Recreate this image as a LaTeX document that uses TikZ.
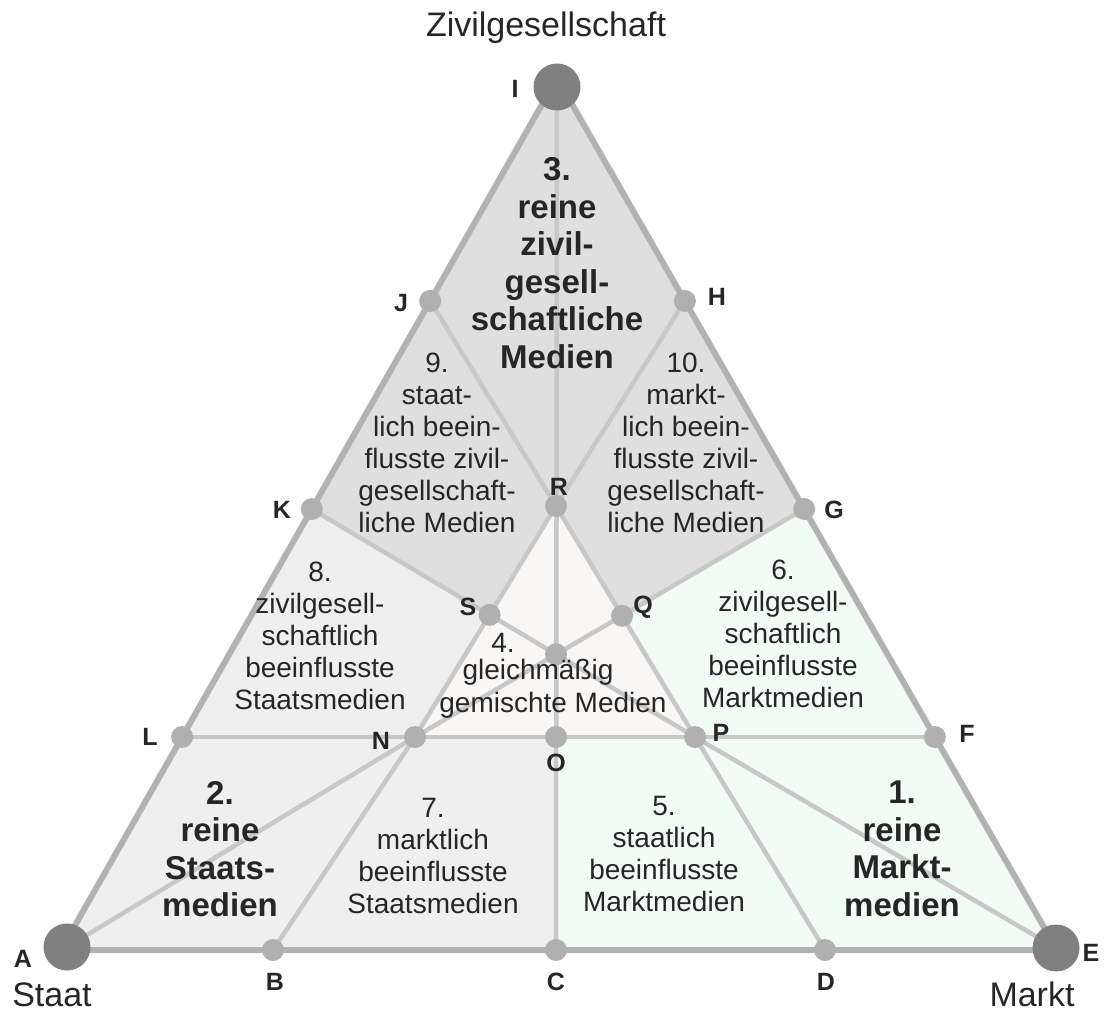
\documentclass[tikz,border=0pt]{standalone}
\usepackage{fontspec}
\setmainfont{Liberation Sans}[Ligatures=NoCommon]
\usetikzlibrary{calc}
\definecolor{rimgray}{HTML}{B2B2B2}
\definecolor{linegray}{HTML}{C8C8C8}
\definecolor{dotgray}{HTML}{B0B0B0}
\definecolor{poledot}{HTML}{808080}
\definecolor{topfill}{HTML}{DFDFDF}
\definecolor{stfill}{HTML}{EFEFEF}
\definecolor{mkfill}{HTML}{F2FCF7}
\definecolor{midfill}{HTML}{F8F7F6}
\definecolor{ink}{HTML}{262626}
\begin{document}
\begin{tikzpicture}[x=1pt,y=-1pt,
  rim/.style={draw=rimgray,line width=6pt,line join=round},
  seg/.style={draw=linegray,line width=4.5pt},
  dot/.style={circle,fill=dotgray,inner sep=0pt,minimum size=22pt},
  pole/.style={circle,fill=poledot,inner sep=0pt,minimum size=47pt},
  lbl/.style={text=ink,inner sep=0pt,font=\fontsize{25}{30}\selectfont\bfseries},
  polename/.style={text=ink,inner sep=0pt,font=\fontsize{34}{40}\selectfont},
  reg/.style={text=ink,inner sep=0pt,align=center,font=\fontsize{28}{32}\selectfont},
  pure/.style={text=ink,inner sep=0pt,align=center,font=\fontsize{33}{37.5}\selectfont\bfseries}]
\useasboundingbox (0,0) rectangle (1113,1014);

% corners of the triangle
\coordinate (A) at (61,950);
\coordinate (E) at (1057,950);
\coordinate (T) at (557,78);
% points on the sides
\coordinate (B) at (273,950);
\coordinate (C) at (556,950);
\coordinate (D) at (825,950);
\coordinate (L) at ($(A)!0.2443!(T)$);
\coordinate (K) at ($(A)!0.5057!(T)$);
\coordinate (J) at ($(A)!0.7443!(T)$);
\coordinate (F) at ($(E)!0.2443!(T)$);
\coordinate (G) at ($(E)!0.5057!(T)$);
\coordinate (H) at ($(E)!0.7443!(T)$);
% inner points
\coordinate (R) at (556,506);
\coordinate (N) at (415,737);
\coordinate (O) at (556,737);
\coordinate (P) at (695,737);
\coordinate (S) at (intersection of K--P and R--N);
\coordinate (Q) at (intersection of G--N and R--P);
\coordinate (M) at (intersection of K--P and G--N);
% pole centres
\coordinate (Ac) at (67,947);
\coordinate (Ec) at (1056,948);
\coordinate (Ic) at (557,87);

% shaded areas
\fill[topfill] (T) -- (K) -- (S) -- (R) -- (Q) -- (G) -- cycle;
\fill[stfill] (A) -- (C) -- (O) -- (N) -- (S) -- (K) -- cycle;
\fill[mkfill] (C) -- (E) -- (G) -- (Q) -- (P) -- (O) -- cycle;
\fill[midfill] (R) -- (N) -- (P) -- cycle;

% dividing lines
\draw[seg] (L) -- (F);
\draw[seg] (T) -- (C);
\draw[seg] (K) -- (P);
\draw[seg] (G) -- (N);
\draw[seg] (J) -- (R) -- (H);
\draw[seg] (N) -- (R) -- (P);
\draw[seg] (Ac) -- (N) -- (B);
\draw[seg] (Ec) -- (P) -- (D);

% outline
\draw[rim] (A) -- (E) -- (T) -- cycle;

% points
\foreach \p in {B,C,D,F,G,H,J,K,L,R,S,Q,M,N,O,P}
  \node[dot] (d\p) at (\p) {};
\node[pole] (dA) at (Ac) {};
\node[pole] (dE) at (Ec) {};
\node[pole] (dI) at (Ic) {};

% point letters
\node[lbl] (lA) at (23,959) {A};
\node[lbl] (lB) at (275,982) {B};
\node[lbl] (lC) at (556,982) {C};
\node[lbl] (lD) at (826,982) {D};
\node[lbl] (lE) at (1091,953) {E};
\node[lbl] (lF) at (967,734) {F};
\node[lbl] (lG) at (834,510) {G};
\node[lbl] (lH) at (717,297) {H};
\node[lbl] (lI) at (515,89) {I};
\node[lbl] (lJ) at (401,303) {J};
\node[lbl] (lK) at (282,510) {K};
\node[lbl] (lL) at (150,737) {L};
\node[lbl] (lN) at (381,741) {N};
\node[lbl] (lO) at (556,763) {O};
\node[lbl] (lP) at (721,733) {P};
\node[lbl] (lQ) at (643,607) {Q};
\node[lbl] (lR) at (559,487) {R};
\node[lbl] (lS) at (468,607) {S};

% pole captions
\node[polename,anchor=base] (cZ) at (546,37) {Zivilgesellschaft};
\node[polename] (cS) at (52,995) {Staat};
\node[polename] (cM) at (1032,994) {Markt};

% area texts
\node[pure] (t3) at (557,263) {3.\\reine\\zivil-\\gesell-\\schaftliche\\Medien};
\node[pure] (t2) at (220,849) {2.\\reine\\Staats-\\medien};
\node[pure] (t1) at (902,849) {1.\\reine\\Markt-\\medien};
\node[reg] (t9) at (437,443) {9.\\staat-\\lich beein-\\flusste zivil-\\gesellschaft-\\liche Medien};
\node[reg] (t10) at (686,443) {10.\\markt-\\lich beein-\\flusste zivil-\\gesellschaft-\\liche Medien};
\node[reg] (t8) at (320,636) {8.\\zivilgesell-\\schaftlich\\beeinflusste\\Staatsmedien};
\node[reg] (t6) at (783,634) {6.\\zivilgesell-\\schaftlich\\beeinflusste\\Marktmedien};
\node[reg] (t7) at (433,856) {7.\\marktlich\\beeinflusste\\Staatsmedien};
\node[reg] (t5) at (664,854) {5.\\staatlich\\beeinflusste\\Marktmedien};
\node[reg] (t4a) at (503,643) {4.};
\node[reg] (t4b) at (538,672) {gleichmäßig};
\node[reg] (t4c) at (553,705) {gemischte Medien};
\end{tikzpicture}
\end{document}
